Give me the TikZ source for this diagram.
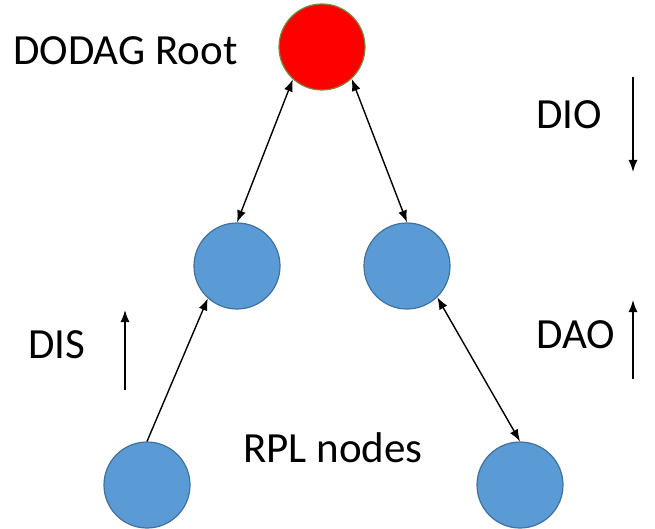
\documentclass[tikz,border=0pt]{standalone}
\usepackage{fontspec}
\setmainfont{Carlito}
\usetikzlibrary{arrows.meta}

\begin{document}
\begin{tikzpicture}[x=1pt, y=-1pt, >={Latex[length=12pt,width=9pt]},
  mote/.style={circle, draw=rpedge, fill=rpblue, line width=1.2pt, minimum size=86pt, inner sep=0pt},
  sink/.style={mote, draw=rootedge, fill=red},
  tag/.style={anchor=base west, inner sep=0pt, font=\fontsize{43}{50}\selectfont},
  link/.style={line width=1.4pt}]
\definecolor{rpblue}{RGB}{91,155,213}
\definecolor{rpedge}{RGB}{65,113,156}
\definecolor{rootedge}{RGB}{112,140,60}
\useasboundingbox (0,0) rectangle (655,529);
\node[sink] (root) at (322,47) {};
\node[mote] (lmid) at (237,266) {};
\node[mote] (rmid) at (407,266) {};
\node[mote] (lbot) at (147,485) {};
\node[mote] (rbot) at (520,485) {};
\node[tag] (dodag) at (13,65) {DODAG Root};
\node[tag] (dio) at (536,129) {DIO};
\node[tag] (dis) at (28,358) {DIS};
\node[tag] (dao) at (536,348) {DAO};
\node[tag] (rpl) at (243,462) {RPL nodes};
\coordinate (dioA) at (633,77);
\coordinate (dioB) at (633,172);
\coordinate (disA) at (125,390);
\coordinate (disB) at (125,310);
\coordinate (daoA) at (633,379);
\coordinate (daoB) at (633,300);
\draw[link,<->] (root.-132) -- (lmid.north);
\draw[link,<->] (root.-47) -- (rmid.north);
\draw[link,->] (lbot.north) -- (lmid.-132);
\draw[link,<->] (rmid.-46) -- (rbot.north);
\draw[link,->] (dioA) -- (dioB);
\draw[link,->] (disA) -- (disB);
\draw[link,->] (daoA) -- (daoB);
\end{tikzpicture}
\end{document}
